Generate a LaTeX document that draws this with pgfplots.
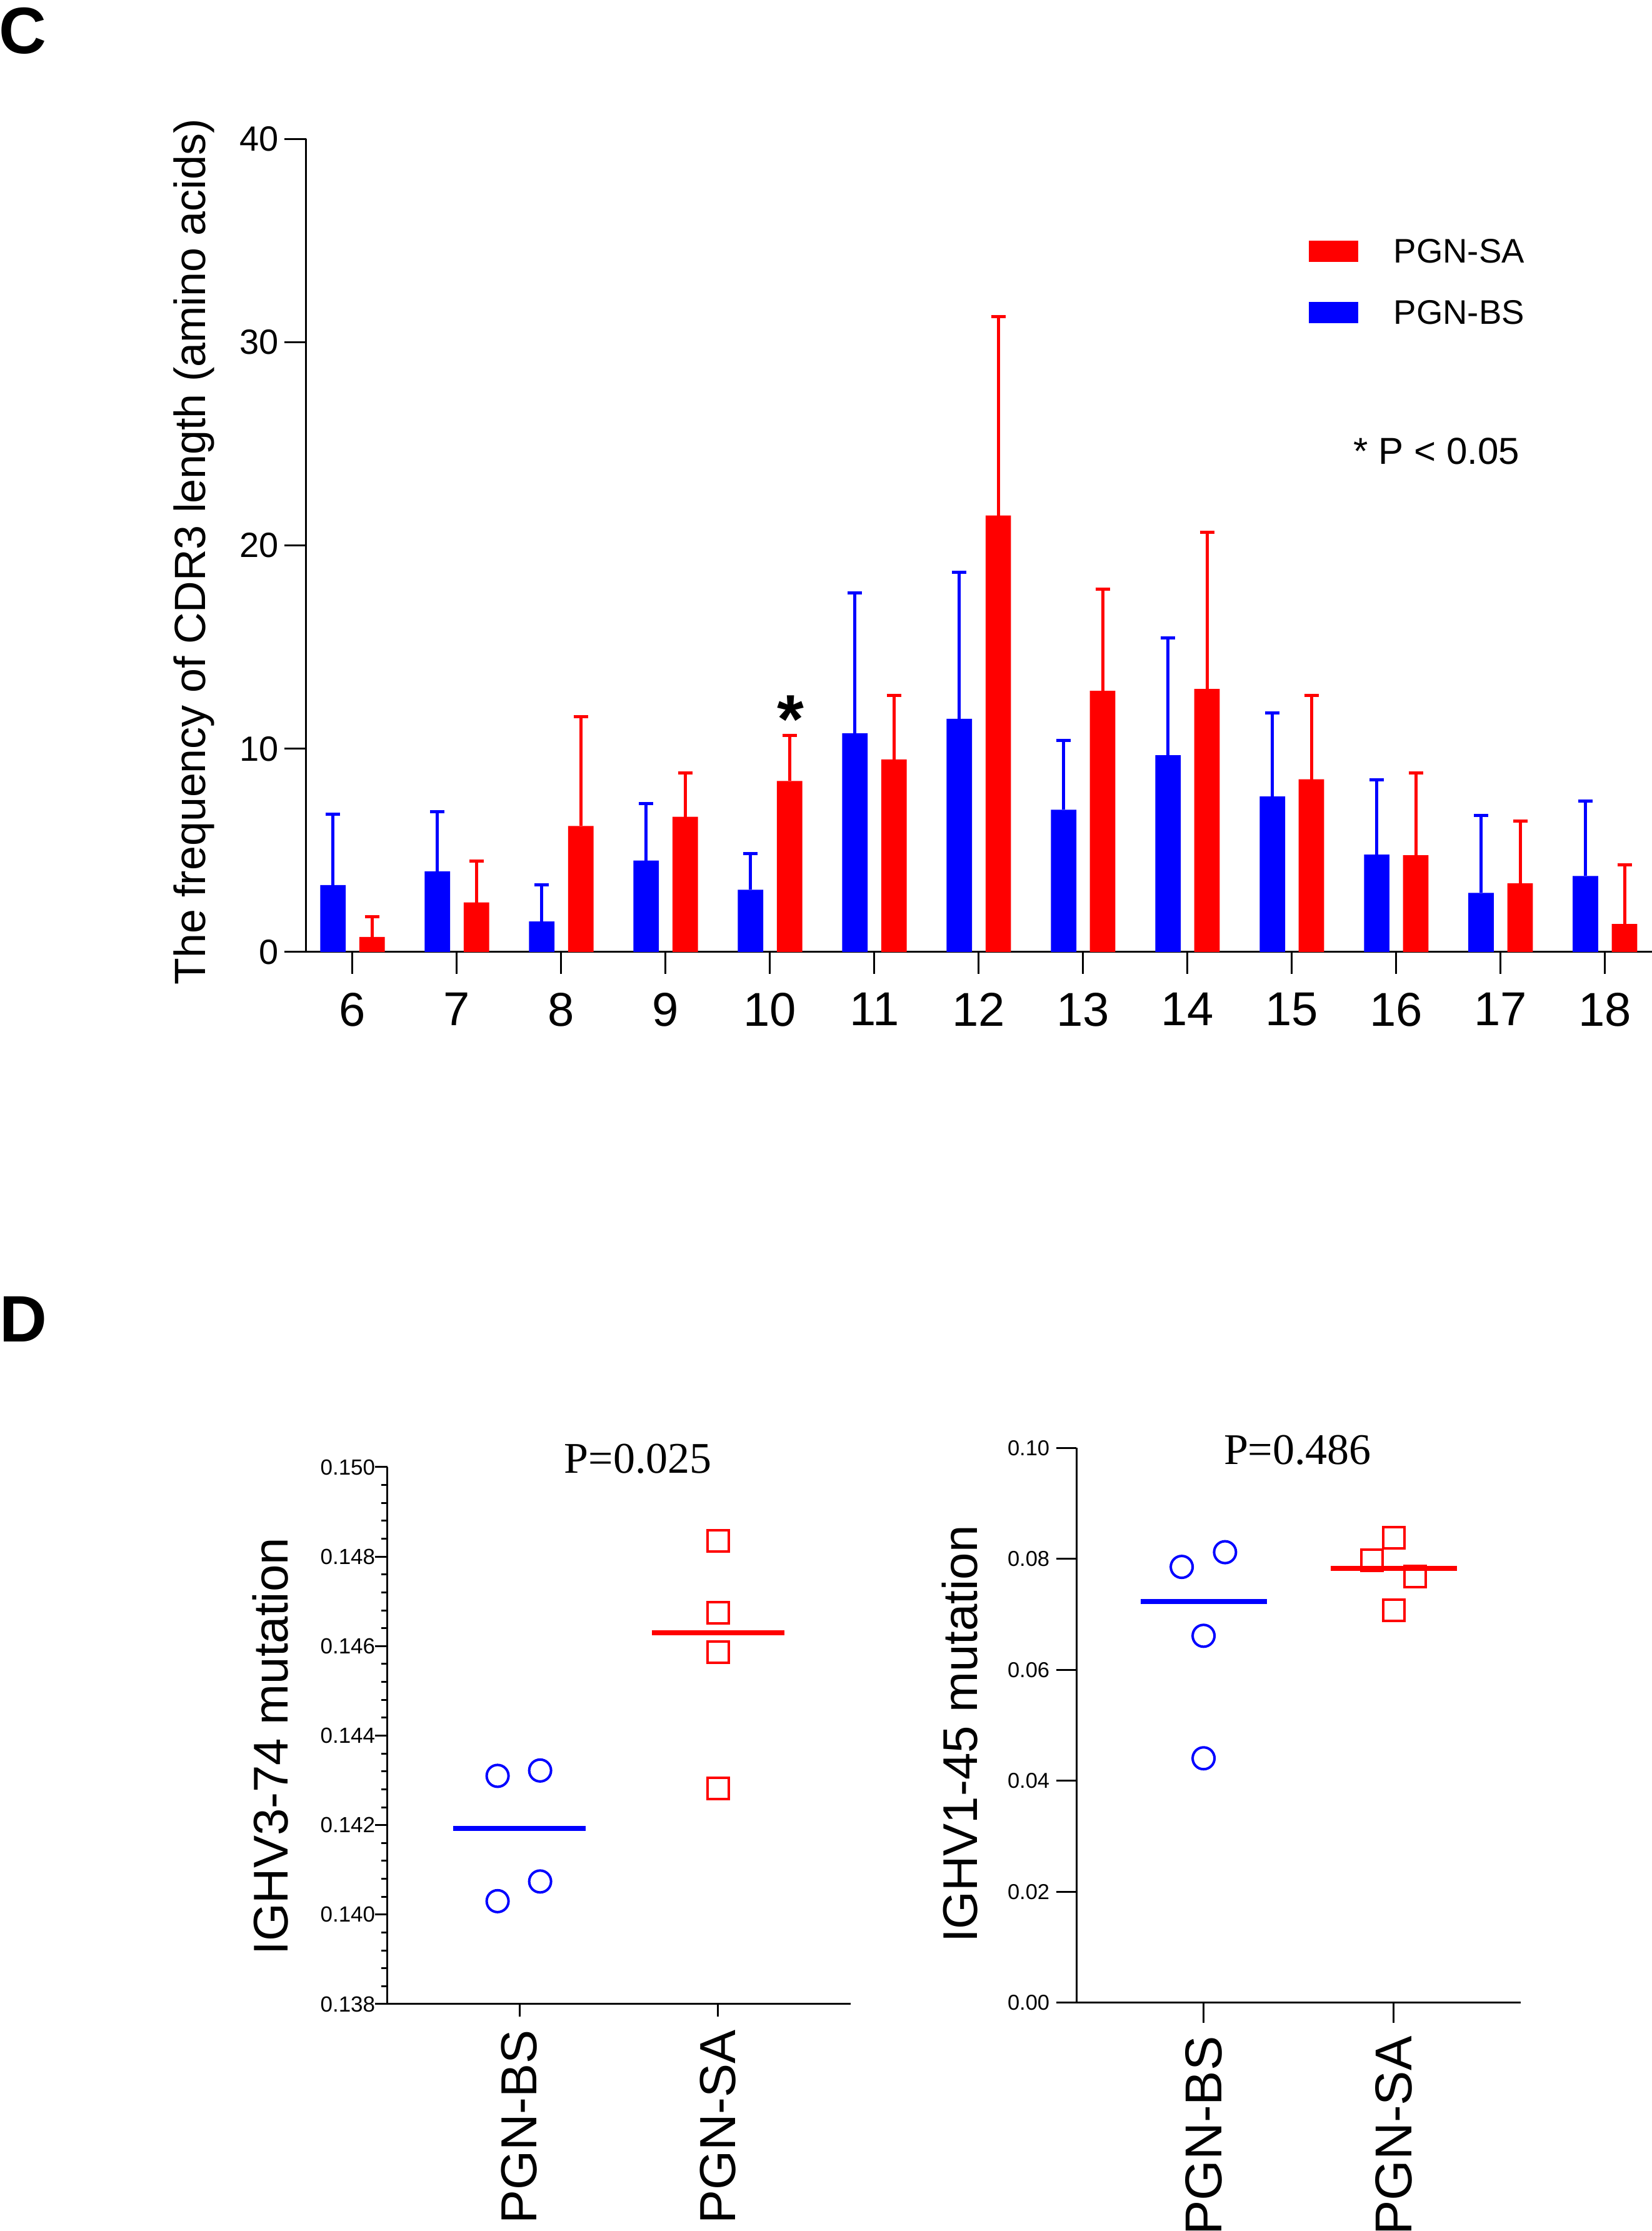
\documentclass[border=0pt]{standalone}
\usepackage{pgfplots}
\usepackage{pgfplotstable}
\pgfplotsset{compat=1.18}
\usepackage{fontspec}
\setmainfont{Liberation Sans}
\newfontfamily\seriffont{Liberation Serif}
\definecolor{myblue}{RGB}{0,0,255}
\definecolor{myred}{RGB}{255,0,0}

\pgfplotstableread{
x  y      e
6  3.29   3.50
7  3.97   2.94
8  1.50   1.79
9  4.50   2.79
10 3.06   1.79
11 10.76  6.89
12 11.47  7.21
13 7.00   3.41
14 9.68   5.76
15 7.65   4.11
16 4.79   3.68
17 2.91   3.80
18 3.74   3.70
}\bsdata
\pgfplotstableread{
x  y      e
6  0.74   1.00
7  2.44   2.03
8  6.20   5.39
9  6.65   2.17
10 8.41   2.24
11 9.47   3.15
12 21.47  9.79
13 12.85  5.00
14 12.94  7.71
15 8.50   4.12
16 4.76   4.06
17 3.38   3.06
18 1.38   2.91
}\sadata

\begin{document}
\begin{tikzpicture}
\useasboundingbox (0,0) rectangle (264.3pt,356.9pt);
\node[font=\fontsize{10.5}{12}\selectfont\bfseries, anchor=center] at (3.6pt,352.0pt) {C};
\node[font=\fontsize{10.5}{12}\selectfont\bfseries, anchor=center] at (3.7pt,145.9pt) {D};

% Panel C
\begin{axis}[
  at={(49.0pt,204.6pt)}, anchor=south west,
  scale only axis, width=215.3pt, height=130.1pt,
  clip=false,
  xmin=5.557, xmax=18.45, ymin=0, ymax=40,
  axis x line*=bottom, axis y line*=left,
  axis line style={line width=0.3pt},
  xtick={6,...,18}, ytick={0,10,20,30,40},
  tick align=outside, major tick length=3.5pt,
  tick style={line width=0.3pt, black},
  xticklabel style={font=\fontsize{7.6}{9}\selectfont, yshift=0.5pt},
  yticklabel style={font=\fontsize{5.6}{7}\selectfont, xshift=2.6pt},
  /pgf/number format/assume math mode=true,
  ylabel={The frequency of CDR3 length (amino acids)},
  ylabel style={font=\fontsize{7}{8}\selectfont, at={(axis description cs:-0.0836,0.492)}, anchor=center},
  legend style={draw=none, fill=none, at={(0.744,0.878)}, anchor=north west,
    font=\fontsize{5.45}{6}\selectfont, row sep=4.45pt, inner sep=0pt,
    nodes={inner sep=0pt},
    /tikz/every odd column/.append style={column sep=5.7pt}},
  reverse legend,
]
\addplot[ybar, bar width=0.244, bar shift=0pt, fill=myblue, draw=none,
  legend image code/.code={\fill[myblue] (0pt,-1.0pt) rectangle (7.9pt,2.4pt);},
  error bars/.cd, y dir=plus, y explicit, error mark=-,
  error bar style={draw=myblue, line width=0.5pt},
  error mark options={rotate=90, draw=myblue, mark size=1.15pt, line width=0.5pt}]
  table[x expr=\thisrow{x}-0.187, y=y, y error=e] {\bsdata};
\addlegendentry{PGN-BS}
\addplot[ybar, bar width=0.244, bar shift=0pt, fill=myred, draw=none,
  legend image code/.code={\fill[myred] (0pt,-1.0pt) rectangle (7.9pt,2.4pt);},
  error bars/.cd, y dir=plus, y explicit, error mark=-,
  error bar style={draw=myred, line width=0.5pt},
  error mark options={rotate=90, draw=myred, mark size=1.15pt, line width=0.5pt}]
  table[x expr=\thisrow{x}+0.187, y=y, y error=e] {\sadata};
\addlegendentry{PGN-SA}
\node[font=\fontsize{11}{12}\selectfont\bfseries, anchor=base] at (axis cs:10.2,10.27) {*};
\node[font=\fontsize{6}{7}\selectfont, anchor=center] at (rel axis cs:0.840,0.616) {* P < 0.05};
\end{axis}

% Panel D left
\begin{axis}[
  at={(62.0pt,36.3pt)}, anchor=south west,
  scale only axis, width=74.1pt, height=85.9pt,
  clip=false,
  xmin=0.336, xmax=2.667, ymin=0.138, ymax=0.150,
  axis x line*=bottom, axis y line*=left,
  axis line style={line width=0.3pt},
  xtick={1,2}, xticklabels={PGN-BS,PGN-SA},
  ytick={0.138,0.14,0.142,0.144,0.146,0.148,0.15},
  minor y tick num=4,
  scaled y ticks=false,
  tick align=outside, major tick length=2pt, minor tick length=1pt,
  tick style={line width=0.3pt, black},
  /pgf/number format/assume math mode=true,
  yticklabel style={font=\fontsize{3.5}{4}\selectfont, xshift=3.55pt, /pgf/number format/.cd, fixed, fixed zerofill, precision=3},
  xticklabel style={yshift=1.4pt, rotate=90, anchor=east, font=\fontsize{8.1}{9}\selectfont},
  ylabel={IGHV3-74 mutation},
  ylabel style={font=\fontsize{7.8}{9}\selectfont, at={(axis description cs:-0.2535,0.480)}, anchor=center},
]
\addplot[only marks, mark=o, mark size=1.75pt, myblue, mark options={line width=0.4pt}]
  coordinates {(0.89,0.1431) (1.104,0.14322) (1.104,0.14074) (0.89,0.1403)};
\addplot[only marks, mark=square, mark size=1.7pt, myred, mark options={line width=0.4pt}]
  coordinates {(2,0.14835) (2,0.14674) (2,0.14586) (2,0.14282)};
\addplot[myblue, line width=0.8pt] coordinates {(0.667,0.14192) (1.333,0.14192)};
\addplot[myred, line width=0.8pt] coordinates {(1.667,0.1463) (2.333,0.1463)};
\node[font=\seriffont\fontsize{7}{8}\selectfont, anchor=center] at (rel axis cs:0.541,1.016) {P=0.025};
\end{axis}

% Panel D right
\begin{axis}[
  at={(172.25pt,36.5pt)}, anchor=south west,
  scale only axis, width=71.05pt, height=88.75pt,
  clip=false,
  xmin=0.332, xmax=2.669, ymin=0, ymax=0.10,
  axis x line*=bottom, axis y line*=left,
  axis line style={line width=0.3pt},
  xtick={1,2}, xticklabels={PGN-BS,PGN-SA},
  ytick={0,0.02,0.04,0.06,0.08,0.1},
  scaled y ticks=false,
  tick align=outside, major tick length=3.2pt,
  tick style={line width=0.3pt, black},
  /pgf/number format/assume math mode=true,
  yticklabel style={font=\fontsize{3.45}{4}\selectfont, xshift=2.4pt, /pgf/number format/.cd, fixed, fixed zerofill, precision=2},
  xticklabel style={yshift=1.4pt, rotate=90, anchor=east, font=\fontsize{8.3}{9}\selectfont},
  ylabel={IGHV1-45 mutation},
  ylabel style={font=\fontsize{7.8}{9}\selectfont, at={(axis description cs:-0.2627,0.4845)}, anchor=center},
]
\addplot[only marks, mark=o, mark size=1.75pt, myblue, mark options={line width=0.4pt}]
  coordinates {(0.885,0.07858) (1.113,0.08123) (1.0,0.06616) (1.0,0.04408)};
\addplot[only marks, mark=square, mark size=1.7pt, myred, mark options={line width=0.4pt}]
  coordinates {(2,0.08379) (1.8875,0.07972) (2.114,0.07687) (2,0.0708)};
\addplot[myblue, line width=0.8pt] coordinates {(0.669,0.07237) (1.334,0.07237)};
\addplot[myred, line width=0.8pt] coordinates {(1.67,0.0783) (2.335,0.0783)};
\node[font=\seriffont\fontsize{7}{8}\selectfont, anchor=center] at (rel axis cs:0.4975,0.996) {P=0.486};
\end{axis}
\end{tikzpicture}
\end{document}
